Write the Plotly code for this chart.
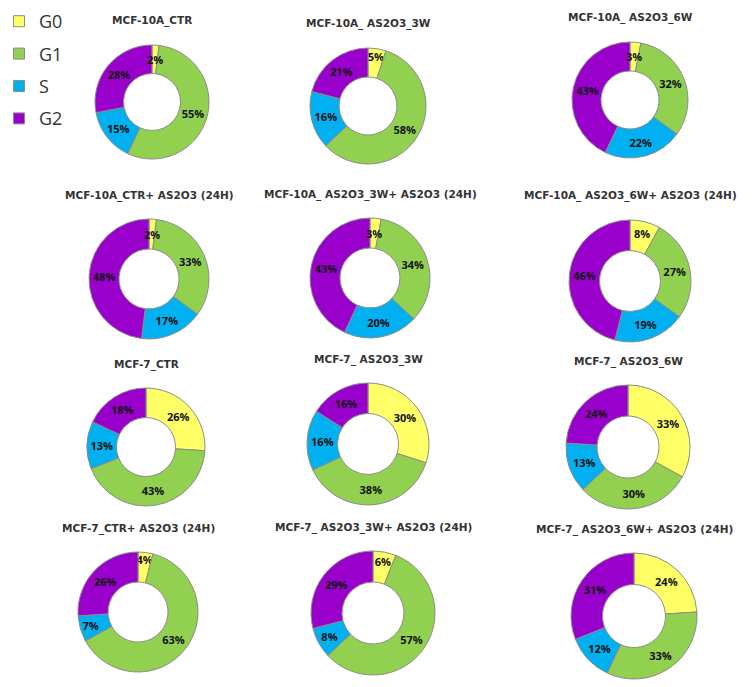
import math
import plotly.graph_objects as go

# cell cycle phases, clockwise from 12 o'clock
phases = ["G0", "G1", "S", "G2"]
phase_colors = ["#FFFF66", "#92D050", "#00B0F0", "#9900CC"]

titles = [
    "MCF-10A_CTR",
    "MCF-10A_ AS2O3_3W",
    "MCF-10A_ AS2O3_6W",
    "MCF-10A_CTR+ AS2O3 (24H)",
    "MCF-10A_ AS2O3_3W+ AS2O3 (24H)",
    "MCF-10A_ AS2O3_6W+ AS2O3 (24H)",
    "MCF-7_CTR",
    "MCF-7_ AS2O3_3W",
    "MCF-7_ AS2O3_6W",
    "MCF-7_CTR+ AS2O3 (24H)",
    "MCF-7_ AS2O3_3W+ AS2O3 (24H)",
    "MCF-7_ AS2O3_6W+ AS2O3 (24H)",
]

# percentages per sample: G0, G1, S, G2
g0 = [2, 5, 3, 2, 3, 8, 26, 30, 33, 4, 6, 24]
g1 = [55, 58, 32, 33, 34, 27, 43, 38, 30, 63, 57, 33]
s_phase = [15, 16, 22, 17, 20, 19, 13, 16, 13, 7, 8, 12]
g2 = [28, 21, 43, 48, 43, 46, 18, 16, 24, 26, 29, 31]

# layout: donut centre (px) and outer radius (px) for each panel
W, H = 753, 687
HOLE = 0.5
centers = [
    (152, 102), (368, 106), (630, 100),
    (149, 279), (370, 278), (630, 281),
    (146, 447), (368, 444), (628, 447),
    (138, 612), (373, 613), (634, 616),
]
radii = [57, 58, 58, 60, 60, 61, 59, 61, 62, 60, 62, 63]

label_font = dict(family="Open Sans", size=11, color="#111111", weight=700)
title_font = dict(family="DejaVu Sans", size=10.5, color="#333333", weight=700)

fig = go.Figure()
annotations = []

for i, title in enumerate(titles):
    cx, cy = centers[i]
    r = radii[i]
    vals = [g0[i], g1[i], s_phase[i], g2[i]]
    # plotly shrinks text in very thin slices, so those labels go in annotations
    texts = [f"{v}%" if v >= 4 else "" for v in vals]
    fig.add_trace(
        go.Pie(
            labels=phases,
            values=vals,
            text=texts,
            textinfo="text",
            hole=HOLE,
            sort=False,
            direction="clockwise",
            rotation=0,
            marker=dict(colors=phase_colors, line=dict(color="#8c8c8c", width=1)),
            textposition="inside",
            insidetextorientation="horizontal",
            textfont=label_font,
            domain=dict(
                x=[(cx - r) / W, (cx + r) / W],
                y=[1 - (cy + r) / H, 1 - (cy - r) / H],
            ),
            showlegend=False,
            hoverinfo="label+percent",
        )
    )

    total = sum(vals)
    cum = 0
    for v in vals:
        if v < 4:
            ang = 2 * math.pi * (cum + v / 2) / total
            rm = r * (1 + HOLE) / 2
            annotations.append(
                dict(
                    text=f"{v}%",
                    x=(cx + rm * math.sin(ang)) / W,
                    y=1 - (cy - rm * math.cos(ang)) / H,
                    xref="paper",
                    yref="paper",
                    xanchor="center",
                    yanchor="middle",
                    showarrow=False,
                    font=label_font,
                )
            )
        cum += v

    annotations.append(
        dict(
            text=title,
            x=cx / W,
            y=1 - (cy - r - 24) / H,
            xref="paper",
            yref="paper",
            xanchor="center",
            yanchor="middle",
            showarrow=False,
            font=title_font,
        )
    )

# legend entries (one group each so they can be spaced apart)
for name, color in zip(phases, phase_colors):
    fig.add_trace(
        go.Scatter(
            x=[None],
            y=[None],
            mode="markers",
            name=name,
            legendgroup=name,
            marker=dict(symbol="square", size=11, color=color,
                        line=dict(color="#8c8c8c", width=1)),
            hoverinfo="skip",
        )
    )

fig.update_layout(
    width=W,
    height=H,
    margin=dict(l=0, r=0, t=0, b=0, autoexpand=False),
    paper_bgcolor="white",
    plot_bgcolor="white",
    annotations=annotations,
    uniformtext=dict(minsize=11, mode="show"),
    xaxis=dict(visible=False),
    yaxis=dict(visible=False),
    showlegend=True,
    legend=dict(
        x=-1 / W,
        y=1 - 3 / H,
        xanchor="left",
        yanchor="top",
        font=dict(family="Open Sans", size=18, color="#333333"),
        tracegroupgap=6,
        bgcolor="rgba(0,0,0,0)",
        itemclick=False,
    ),
)

# page body has a default 8px margin; drop it so the figure sits at 0,0
fig.write_html(
    "out.html",
    config={"displayModeBar": False},
    post_script="document.body.style.margin='0';",
)
